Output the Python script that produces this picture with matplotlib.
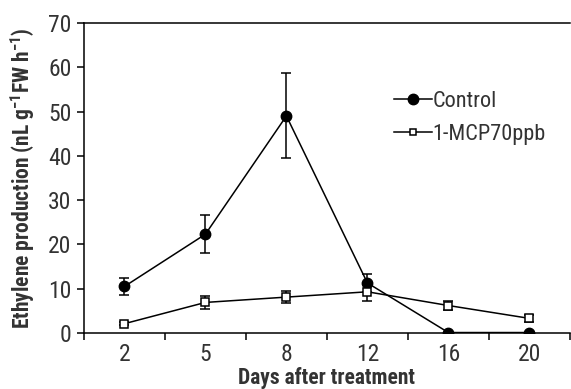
import matplotlib
matplotlib.use('Agg')
import matplotlib.pyplot as plt
from matplotlib.lines import Line2D
import numpy as np

plt.rcParams['font.family'] = ['Roboto Condensed', 'Archivo Narrow', 'DejaVu Sans']
plt.rcParams['mathtext.fontset'] = 'custom'
plt.rcParams['mathtext.rm'] = 'Roboto Condensed'
plt.rcParams['mathtext.bf'] = 'Roboto Condensed:bold'

# Data
days = ['2', '5', '8', '12', '16', '20']
control = [10.5, 22.3, 49.0, 11.3, 0.1, 0.1]
control_err = [2.0, 4.3, 9.6, 2.0, 0.0, 0.0]
mcp = [2.1, 6.9, 8.1, 9.3, 6.2, 3.3]
mcp_err = [0.4, 1.5, 1.4, 2.0, 1.1, 0.8]

fig = plt.figure(figsize=(5.71, 3.89), dpi=100)
ax = fig.add_axes([0.147, 0.144, 0.851, 0.797])

x = np.arange(len(days))
ax.errorbar(x, control, yerr=control_err, color='black', marker='o', ms=7.5,
            lw=1.1, elinewidth=1.1, capsize=3.5, capthick=1.1, zorder=3)
ax.errorbar(x, mcp, yerr=mcp_err, color='black', marker='s', ms=6, mfc='white',
            mew=1.1, lw=1.1, elinewidth=1.1, capsize=3.5, capthick=1.1, zorder=4)

ax.set_xlim(-0.5, len(days) - 0.5)
ax.set_ylim(0, 70)
ax.set_yticks(range(0, 71, 10))
ax.set_xticks(x)
ax.set_xticklabels(days)
ax.set_xticks(np.arange(-0.5, len(days)), minor=True)
ax.tick_params(axis='x', which='major', length=0, labelsize=17, pad=7, colors='#333333')
ax.tick_params(axis='x', which='minor', length=5, width=1.1, direction='out')
ax.tick_params(axis='y', length=5, width=1.1, labelsize=17, pad=4, colors='#333333')
ax.tick_params(axis='both', which='both', color='black')
ax.spines['right'].set_visible(False)
for s in ['left', 'top', 'bottom']:
    ax.spines[s].set_linewidth(1.1)

ax.set_xlabel('Days after treatment', fontsize=15.5, fontweight='bold', color='#333333', labelpad=1)
ax.set_ylabel(r'Ethylene production (nL g$^{\mathbf{-1}}$FW h$^{\mathbf{-1}}$)', fontsize=15.5,
              fontweight='bold', color='#333333', labelpad=8)

handles = [Line2D([], [], color='black', lw=1.1, marker='o', ms=7.5),
           Line2D([], [], color='black', lw=1.1, marker='s', ms=5, mfc='white', mew=1.1)]
leg = ax.legend(handles, ['Control', '1-MCP70ppb'], loc='upper left',
                bbox_to_anchor=(0.596, 0.845), frameon=False, fontsize=16,
                handlelength=1.75, handletextpad=0.0, labelspacing=0.55)
for t in leg.get_texts():
    t.set_color('#333333')

fig.savefig('out.png', dpi=100)
